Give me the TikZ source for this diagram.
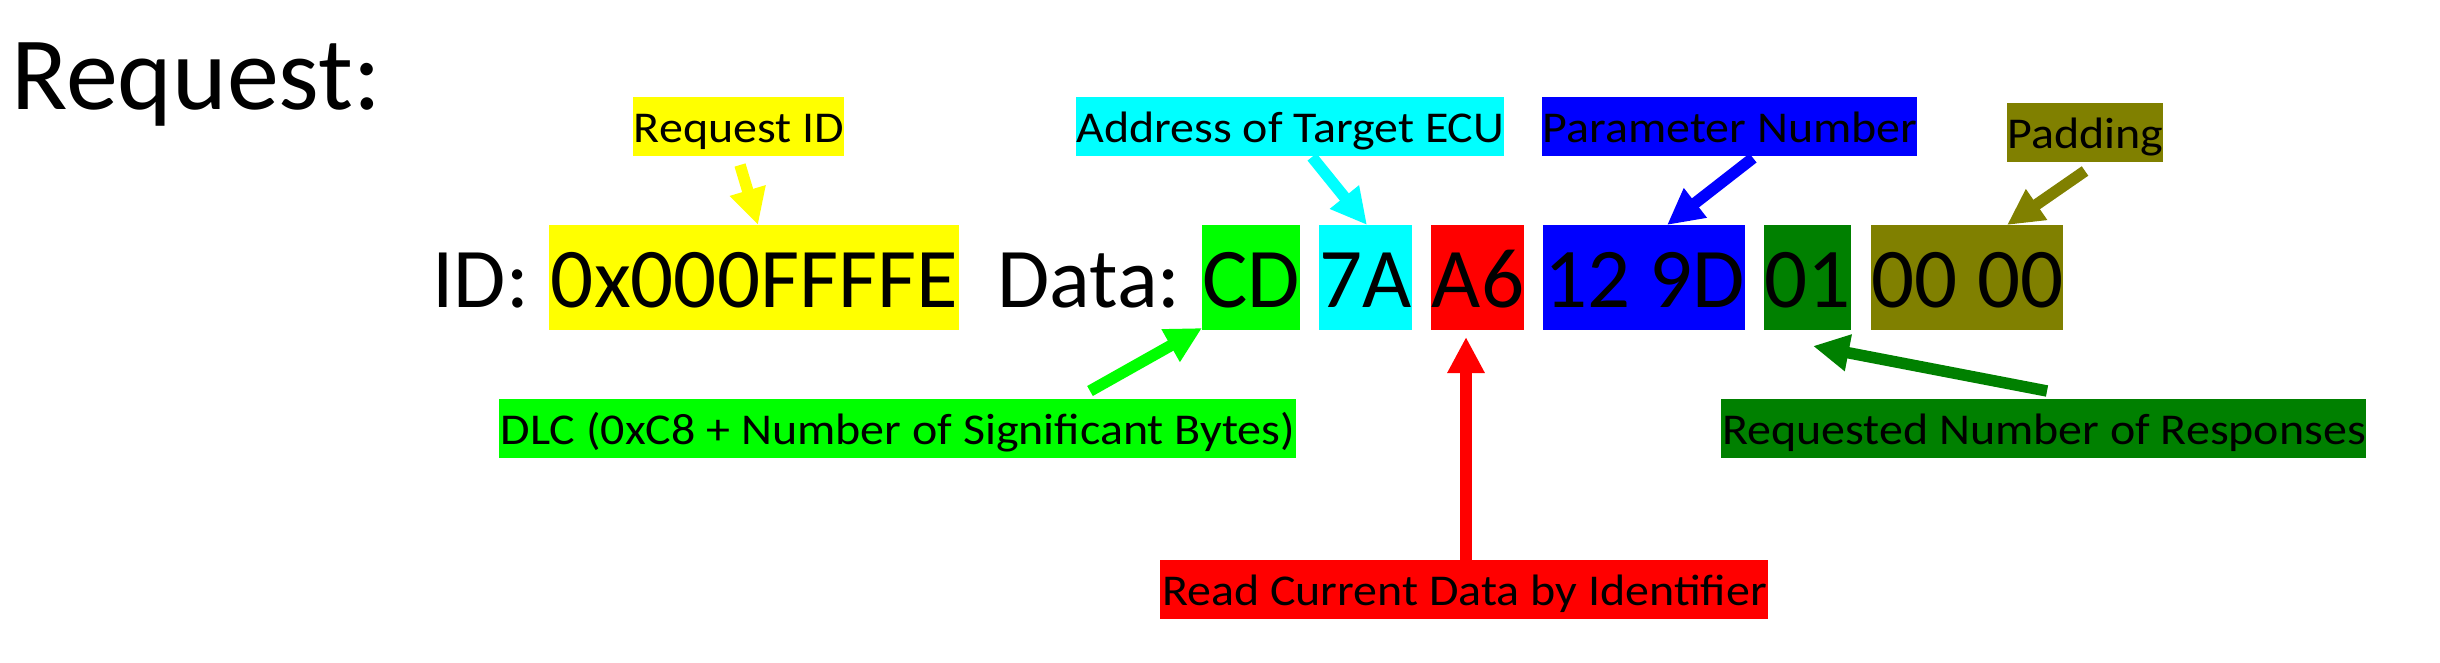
\documentclass[tikz,border=0pt]{standalone}
\usepackage{fontspec}
\setmainfont{Carlito}
\newfontfamily\lblfamily[FakeStretch=1.09]{Carlito}
\usetikzlibrary{arrows.meta}
\definecolor{cYellow}{HTML}{FFFF00}
\definecolor{cCyan}{HTML}{00FFFF}
\definecolor{cRed}{HTML}{FF0000}
\definecolor{cBlue}{HTML}{0000FF}
\definecolor{cLime}{HTML}{00FF00}
\definecolor{cGreen}{HTML}{008000}
\definecolor{cOlive}{HTML}{808000}
\newcommand{\titlefnt}{\fontsize{52}{60}\selectfont}
\newcommand{\valfnt}{\fontsize{42.5}{50}\selectfont}
\newcommand{\lblfnt}{\lblfamily\fontsize{22}{26}\selectfont}
\tikzset{
  lblbox/.style={inner sep=0pt, text height=22.5pt, text depth=7pt, font=\lblfnt, anchor=north west, align=center},
  valbox/.style={inner sep=0pt, text height=41pt, text depth=11.5pt, font=\valfnt, anchor=north west, align=center},
  plain/.style={inner sep=0pt, anchor=base west},
  arr/.style={line width=5.75pt, -{Triangle[length=18pt,width=17.5pt]}},
}
\begin{document}
\begin{tikzpicture}[x=0.5pt,y=-0.5pt]
\useasboundingbox (0,0) rectangle (2440,663);
% title
\node[plain, font=\titlefnt] (title) at (11,110) {Request:};
% main row
\node[plain, font=\valfnt] (idlbl) at (432,307) {ID:};
\node[valbox, fill=cYellow, minimum width=205pt] (idval) at (549,225) {0x000FFFFE};
\node[plain, font=\valfnt] (datalbl) at (997,307) {Data:};
\node[valbox, fill=cLime, minimum width=49pt] (cd) at (1202,225) {CD};
\node[valbox, fill=cCyan, minimum width=46.5pt] (sa) at (1319,225) {7A};
\node[valbox, fill=cRed, minimum width=46.5pt] (a6) at (1431,225) {A6};
\node[valbox, fill=cBlue, minimum width=101pt] (pn) at (1543,225) {12 9D};
\node[valbox, fill=cGreen, minimum width=43.5pt] (nr) at (1764,225) {01};
\node[valbox, fill=cOlive, minimum width=96pt] (pad) at (1871,225) {00 00};
% labels
\node[lblbox, fill=cYellow, minimum width=105.5pt] (lreq) at (633,97) {Request ID};
\node[lblbox, fill=cCyan, minimum width=214pt] (laddr) at (1076,97) {Address of Target ECU};
\node[lblbox, fill=cBlue, minimum width=187.5pt] (lparam) at (1542,97) {Parameter Number};
\node[lblbox, fill=cOlive, minimum width=78pt] (lpad) at (2007,103) {Padding};
\node[lblbox, fill=cLime, minimum width=398.5pt] (ldlc) at (499,399) {DLC (0xC8 + Number of Significant Bytes)};
\node[lblbox, fill=cRed, minimum width=304pt] (lread) at (1160,560) {Read Current Data by Identifier};
\node[lblbox, fill=cGreen, minimum width=322.5pt] (lresp) at (1721,399) {Requested Number of Responses};
% arrow end points
\coordinate (t1) at (740,165);  \coordinate (h1) at (758,225);
\coordinate (t2) at (1312,157); \coordinate (h2) at (1367,225);
\coordinate (t3) at (1753,158); \coordinate (h3) at (1667,225);
\coordinate (t4) at (2085,171); \coordinate (h4) at (2007,225);
\coordinate (t5) at (1090,391); \coordinate (h5) at (1202,328);
\coordinate (t6) at (1466,560); \coordinate (h6) at (1466,337);
\coordinate (t7) at (2047,391); \coordinate (h7) at (1813,346);
\draw[arr, cYellow] (t1) -- (h1);
\draw[arr, cCyan] (t2) -- (h2);
\draw[arr, cBlue] (t3) -- (h3);
\draw[arr, cOlive] (t4) -- (h4);
\draw[arr, cLime] (t5) -- (h5);
\draw[arr, cRed] (t6) -- (h6);
\draw[arr, cGreen] (t7) -- (h7);
\end{tikzpicture}
\end{document}
